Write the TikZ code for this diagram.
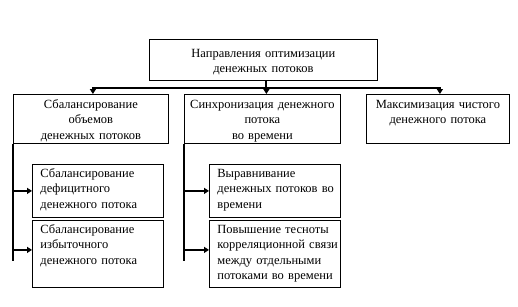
\documentclass[tikz,border=0pt]{standalone}
\usepackage{fontspec}
\setmainfont{Liberation Serif}
\usepackage{tikz}
\usetikzlibrary{arrows.meta,positioning}
\tikzset{
  >={Triangle[length=5pt,width=6pt]},
  box/.style={draw,line width=0.8pt,anchor=north west,inner xsep=4pt,inner ysep=0pt,
    align=center,font=\fontsize{12.5}{15.5}\selectfont},
  sub/.style={box,align=left,inner xsep=8pt,text width=115pt,text height=13pt},
  flow/.style={line width=2pt},
}
\begin{document}
\begin{tikzpicture}[x=1pt,y=-1pt]
  \useasboundingbox (0,0) rectangle (518,306);
  % top
  \node[box,text width=220pt,text height=18pt,text depth=23pt] (main) at (149,39)
    {Направления оптимизации\\денежных потоков};
  % second level
  \node[box,text width=147pt,text height=14pt,text depth=35pt] (bal) at (13,94)
    {Сбалансирование\\объемов\\денежных потоков};
  \node[box,text width=148pt,text height=14pt,text depth=35pt] (syn) at (184,94)
    {Синхронизация денежного\\потока\\во времени};
  \node[box,text width=135pt,text height=14pt,text depth=35pt] (max) at (366,94)
    {Максимизация чистого\\денежного потока};
  % third level
  \node[sub,text depth=40pt] (defi) at (32,164)
    {Сбалансирование\\дефицитного\\денежного~потока};
  \node[sub,text depth=54pt] (izb) at (32,220)
    {Сбалансирование\\избыточного\\денежного~потока};
  \node[sub,text depth=40pt] (vyr) at (209,164)
    {Выравнивание\\денежных~потоков~во\\времени};
  \node[sub,text depth=54pt] (pov) at (209,220)
    {Повышение~тесноты\\корреляционной~связи\\между~отдельными\\потоками~во~времени};
  % connectors
  \coordinate (split) at ([xshift=3pt,yshift=-7pt]main.south);
  \draw[flow] ([xshift=3pt]main.south) -- (split);
  \draw[flow,->] (split) -| ([xshift=2pt]bal.north);
  \draw[flow,->] (split) -| ([xshift=2pt]max.north);
  \draw[flow,->] (split) -- (split |- syn.north);
  \draw[flow] (bal.south west) -- ++(0,117);
  \draw[flow] (syn.south west) -- ++(0,117);
  \coordinate (izbin) at ([yshift=4pt]izb.west);
  \coordinate (povin) at ([yshift=4pt]pov.west);
  \draw[flow,->] (bal.south west |- defi.west) -- (defi.west);
  \draw[flow,->] (bal.south west |- izbin) -- (izbin);
  \draw[flow,->] (syn.south west |- vyr.west) -- (vyr.west);
  \draw[flow,->] (syn.south west |- povin) -- (povin);
\end{tikzpicture}
\end{document}
